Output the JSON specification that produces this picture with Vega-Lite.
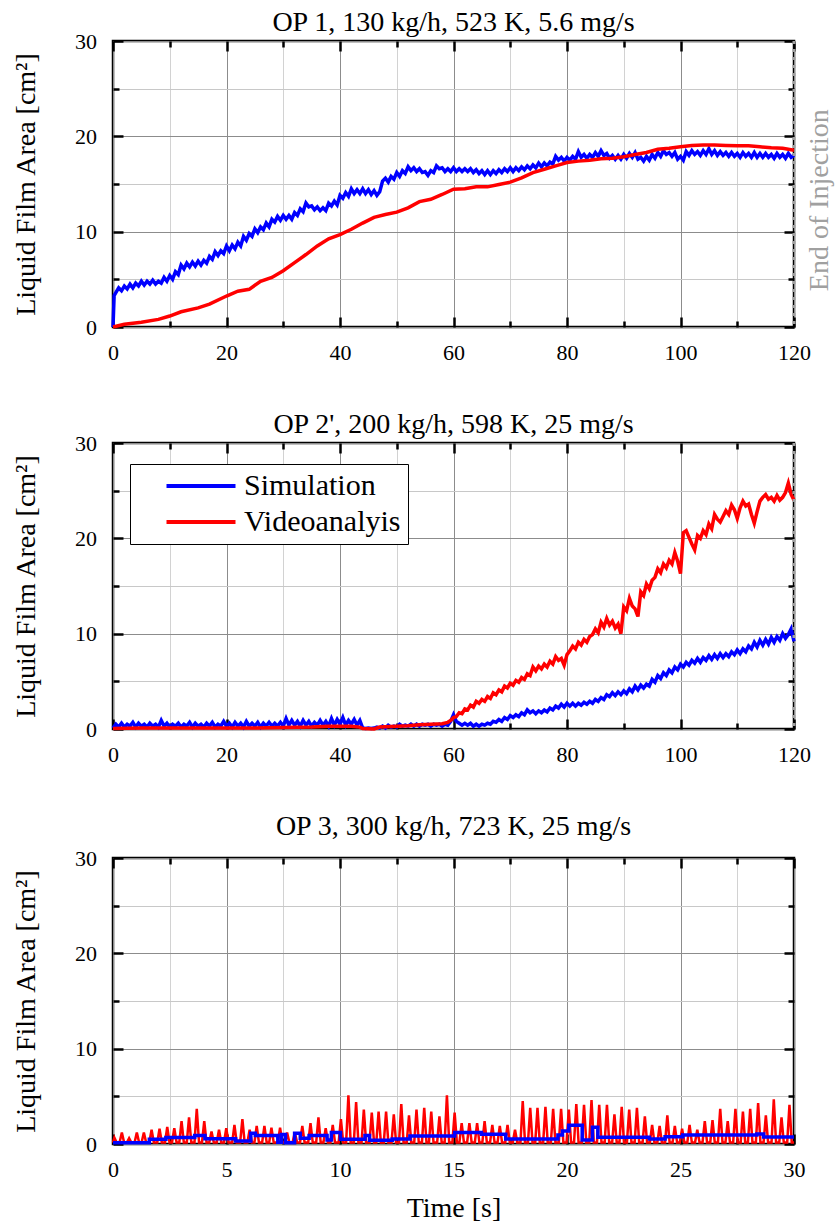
{
"$schema": "https://vega.github.io/schema/vega-lite/v6.json",
"padding": {"top": 7, "left": 11, "right": 5, "bottom": 5},
"spacing": 44,
"config": {
 "font": "Liberation Serif",
 "view": {"stroke": "black", "strokeWidth": 2.5},
 "axis": {"labelFont": "Liberation Serif", "labelFontSize": 22, "labelColor": "black", "titleFont": "Liberation Serif", "titleFontSize": 28, "titleFontWeight": "normal", "titleColor": "black", "domain": false, "tickColor": "black", "tickWidth": 2.5, "tickSize": -10, "labelFlush": false, "labelOverlap": false, "labelBound": false, "gridWidth": 1},
 "title": {"font": "Liberation Serif", "fontSize": 28, "fontWeight": "normal", "color": "black", "baseline": "alphabetic"},
 "legend": {"labelFont": "Liberation Serif", "labelFontSize": 30, "labelColor": "black", "labelLimit": 300}
},
"resolve": {"scale": {"color": "independent"}, "legend": {"color": "independent"}},
"datasets": {
 "p1s": [{"t":0,"v":0},{"t":0.2,"v":3.3},{"t":0.5,"v":3.6},{"t":1,"v":4.1},{"t":1.5,"v":3.8},{"t":2,"v":4.3},{"t":2.5,"v":4.0},{"t":3,"v":4.5},{"t":3.5,"v":4.1},{"t":4,"v":4.6},{"t":4.5,"v":4.3},{"t":5,"v":4.8},{"t":5.5,"v":4.4},{"t":6,"v":4.8},{"t":6.5,"v":4.5},{"t":7,"v":4.9},{"t":7.5,"v":4.5},{"t":8,"v":4.8},{"t":8.5,"v":4.6},{"t":9,"v":5.2},{"t":9.5,"v":4.8},{"t":10,"v":5.4},{"t":10.5,"v":5.0},{"t":11,"v":5.8},{"t":11.5,"v":5.5},{"t":12,"v":6.5},{"t":12.5,"v":6.1},{"t":13,"v":6.7},{"t":13.5,"v":6.3},{"t":14,"v":6.8},{"t":14.5,"v":6.4},{"t":15,"v":6.9},{"t":15.5,"v":6.5},{"t":16,"v":7.0},{"t":16.5,"v":6.7},{"t":17,"v":7.4},{"t":17.5,"v":7.1},{"t":18,"v":7.9},{"t":18.5,"v":7.5},{"t":19,"v":8.0},{"t":19.5,"v":7.7},{"t":20,"v":8.5},{"t":20.5,"v":8.0},{"t":21,"v":8.6},{"t":21.5,"v":8.2},{"t":22,"v":8.9},{"t":22.5,"v":8.5},{"t":23,"v":9.5},{"t":23.5,"v":9.1},{"t":24,"v":9.8},{"t":24.5,"v":9.5},{"t":25,"v":10.3},{"t":25.5,"v":9.9},{"t":26,"v":10.5},{"t":26.5,"v":10.2},{"t":27,"v":10.9},{"t":27.5,"v":10.5},{"t":28,"v":11.3},{"t":28.5,"v":11.0},{"t":29,"v":11.6},{"t":29.5,"v":11.2},{"t":30,"v":11.7},{"t":30.5,"v":11.3},{"t":31,"v":11.7},{"t":31.5,"v":11.3},{"t":32,"v":12.0},{"t":32.5,"v":11.7},{"t":33,"v":12.4},{"t":33.5,"v":12.1},{"t":34,"v":13.0},{"t":34.5,"v":12.6},{"t":35,"v":12.7},{"t":35.5,"v":12.3},{"t":36,"v":12.6},{"t":36.5,"v":12.2},{"t":37,"v":12.5},{"t":37.5,"v":12.2},{"t":38,"v":13.0},{"t":38.5,"v":12.7},{"t":39,"v":13.2},{"t":39.5,"v":12.8},{"t":40,"v":13.8},{"t":40.5,"v":13.5},{"t":41,"v":14.1},{"t":41.5,"v":13.7},{"t":42,"v":14.5},{"t":42.5,"v":14.0},{"t":43,"v":14.4},{"t":43.5,"v":14.0},{"t":44,"v":14.5},{"t":44.5,"v":14.0},{"t":45,"v":14.4},{"t":45.5,"v":13.9},{"t":46,"v":14.3},{"t":46.5,"v":13.8},{"t":47,"v":14.2},{"t":47.5,"v":15.3},{"t":48,"v":15.6},{"t":48.5,"v":15.2},{"t":49,"v":15.8},{"t":49.5,"v":15.5},{"t":50,"v":16.2},{"t":50.5,"v":15.8},{"t":51,"v":16.4},{"t":51.5,"v":16.1},{"t":52,"v":16.8},{"t":52.5,"v":16.4},{"t":53,"v":16.7},{"t":53.5,"v":16.3},{"t":54,"v":16.6},{"t":54.5,"v":16.2},{"t":55,"v":16.3},{"t":55.5,"v":15.9},{"t":56,"v":16.4},{"t":56.5,"v":16.2},{"t":57,"v":16.9},{"t":57.5,"v":16.6},{"t":58,"v":16.7},{"t":58.5,"v":16.3},{"t":59,"v":16.6},{"t":59.5,"v":16.3},{"t":60,"v":16.7},{"t":60.5,"v":16.3},{"t":61,"v":16.6},{"t":61.5,"v":16.3},{"t":62,"v":16.6},{"t":62.5,"v":16.3},{"t":63,"v":16.6},{"t":63.5,"v":16.2},{"t":64,"v":16.5},{"t":64.5,"v":16.1},{"t":65,"v":16.4},{"t":65.5,"v":16.0},{"t":66,"v":16.4},{"t":66.5,"v":16.0},{"t":67,"v":16.4},{"t":67.5,"v":16.1},{"t":68,"v":16.5},{"t":68.5,"v":16.2},{"t":69,"v":16.6},{"t":69.5,"v":16.3},{"t":70,"v":16.7},{"t":70.5,"v":16.3},{"t":71,"v":16.7},{"t":71.5,"v":16.4},{"t":72,"v":16.8},{"t":72.5,"v":16.5},{"t":73,"v":16.9},{"t":73.5,"v":16.6},{"t":74,"v":17.0},{"t":74.5,"v":16.7},{"t":75,"v":17.2},{"t":75.5,"v":16.8},{"t":76,"v":17.2},{"t":76.5,"v":16.9},{"t":77,"v":17.3},{"t":77.5,"v":17.1},{"t":78,"v":17.9},{"t":78.5,"v":17.5},{"t":79,"v":17.8},{"t":79.5,"v":17.4},{"t":80,"v":17.8},{"t":80.5,"v":17.5},{"t":81,"v":17.9},{"t":81.5,"v":17.6},{"t":82,"v":18.4},{"t":82.5,"v":17.8},{"t":83,"v":18.1},{"t":83.5,"v":17.7},{"t":84,"v":18.1},{"t":84.5,"v":17.8},{"t":85,"v":18.3},{"t":85.5,"v":17.9},{"t":86,"v":18.5},{"t":86.5,"v":18.0},{"t":87,"v":18.2},{"t":87.5,"v":17.7},{"t":88,"v":18.0},{"t":88.5,"v":17.6},{"t":89,"v":18.0},{"t":89.5,"v":17.6},{"t":90,"v":18.1},{"t":90.5,"v":17.7},{"t":91,"v":18.2},{"t":91.5,"v":17.8},{"t":92,"v":18.3},{"t":92.5,"v":17.6},{"t":93,"v":17.8},{"t":93.5,"v":17.4},{"t":94,"v":17.9},{"t":94.5,"v":17.5},{"t":95,"v":18.1},{"t":95.5,"v":17.7},{"t":96,"v":18.3},{"t":96.5,"v":17.9},{"t":97,"v":18.5},{"t":97.5,"v":18.1},{"t":98,"v":18.3},{"t":98.5,"v":17.9},{"t":99,"v":18.3},{"t":99.5,"v":17.6},{"t":100,"v":17.9},{"t":100.5,"v":17.5},{"t":101,"v":18.4},{"t":101.5,"v":18.0},{"t":102,"v":18.5},{"t":102.5,"v":18.1},{"t":103,"v":18.4},{"t":103.5,"v":18.0},{"t":104,"v":18.5},{"t":104.5,"v":18.1},{"t":105,"v":18.7},{"t":105.5,"v":18.1},{"t":106,"v":18.5},{"t":106.5,"v":18.0},{"t":107,"v":18.4},{"t":107.5,"v":18.0},{"t":108,"v":18.3},{"t":108.5,"v":17.9},{"t":109,"v":18.3},{"t":109.5,"v":17.9},{"t":110,"v":18.2},{"t":110.5,"v":17.8},{"t":111,"v":18.3},{"t":111.5,"v":17.9},{"t":112,"v":18.2},{"t":112.5,"v":17.8},{"t":113,"v":18.3},{"t":113.5,"v":17.8},{"t":114,"v":18.2},{"t":114.5,"v":17.8},{"t":115,"v":18.2},{"t":115.5,"v":17.8},{"t":116,"v":18.1},{"t":116.5,"v":17.7},{"t":117,"v":18.2},{"t":117.5,"v":17.8},{"t":118,"v":18.1},{"t":118.5,"v":17.7},{"t":119,"v":18.2},{"t":119.5,"v":17.8},{"t":120,"v":18.0}],
 "p1v": [{"t":0,"v":0},{"t":2,"v":0.28},{"t":5,"v":0.5},{"t":8,"v":0.8},{"t":10,"v":1.15},{"t":12,"v":1.6},{"t":15,"v":2.0},{"t":17,"v":2.4},{"t":20,"v":3.25},{"t":22,"v":3.75},{"t":24,"v":3.95},{"t":26,"v":4.8},{"t":28,"v":5.2},{"t":30,"v":5.9},{"t":32,"v":6.75},{"t":34,"v":7.6},{"t":36,"v":8.5},{"t":38,"v":9.25},{"t":40,"v":9.7},{"t":42,"v":10.25},{"t":44,"v":10.9},{"t":46,"v":11.5},{"t":48,"v":11.8},{"t":50,"v":12.05},{"t":52,"v":12.5},{"t":54,"v":13.15},{"t":56,"v":13.4},{"t":58,"v":13.9},{"t":60,"v":14.45},{"t":62,"v":14.5},{"t":64,"v":14.7},{"t":66,"v":14.7},{"t":68,"v":14.95},{"t":70,"v":15.2},{"t":72,"v":15.65},{"t":74,"v":16.2},{"t":76,"v":16.55},{"t":78,"v":16.9},{"t":80,"v":17.25},{"t":82,"v":17.4},{"t":84,"v":17.5},{"t":86,"v":17.65},{"t":88,"v":17.7},{"t":90,"v":17.85},{"t":92,"v":18.1},{"t":94,"v":18.3},{"t":96,"v":18.65},{"t":98,"v":18.75},{"t":100,"v":18.9},{"t":102,"v":19.05},{"t":104,"v":19.1},{"t":106,"v":19.1},{"t":108,"v":19.05},{"t":110,"v":19.0},{"t":112,"v":19.0},{"t":114,"v":18.9},{"t":116,"v":18.8},{"t":118,"v":18.75},{"t":120,"v":18.55}],
 "p2s": [{"t":0,"v":0.1},{"t":0.5,"v":0.5},{"t":1,"v":0.2},{"t":1.5,"v":0.6},{"t":2,"v":0.2},{"t":2.5,"v":0.5},{"t":3,"v":0.3},{"t":3.5,"v":0.7},{"t":4,"v":0.2},{"t":4.5,"v":0.6},{"t":5,"v":0.3},{"t":5.5,"v":0.5},{"t":6,"v":0.2},{"t":6.5,"v":0.6},{"t":7,"v":0.3},{"t":7.5,"v":0.5},{"t":8,"v":0.2},{"t":8.5,"v":0.9},{"t":9,"v":0.3},{"t":9.5,"v":0.6},{"t":10,"v":0.2},{"t":10.5,"v":0.5},{"t":11,"v":0.3},{"t":11.5,"v":0.6},{"t":12,"v":0.2},{"t":12.5,"v":0.5},{"t":13,"v":0.3},{"t":13.5,"v":0.7},{"t":14,"v":0.2},{"t":14.5,"v":0.6},{"t":15,"v":0.3},{"t":15.5,"v":0.5},{"t":16,"v":0.2},{"t":16.5,"v":0.6},{"t":17,"v":0.3},{"t":17.5,"v":0.7},{"t":18,"v":0.2},{"t":18.5,"v":0.5},{"t":19,"v":0.3},{"t":19.5,"v":0.8},{"t":20,"v":0.3},{"t":20.5,"v":0.6},{"t":21,"v":0.2},{"t":21.5,"v":0.7},{"t":22,"v":0.3},{"t":22.5,"v":0.6},{"t":23,"v":0.2},{"t":23.5,"v":0.8},{"t":24,"v":0.3},{"t":24.5,"v":0.6},{"t":25,"v":0.3},{"t":25.5,"v":0.7},{"t":26,"v":0.2},{"t":26.5,"v":0.6},{"t":27,"v":0.3},{"t":27.5,"v":0.7},{"t":28,"v":0.3},{"t":28.5,"v":0.6},{"t":29,"v":0.3},{"t":29.5,"v":0.7},{"t":30,"v":0.3},{"t":30.5,"v":1.1},{"t":31,"v":0.4},{"t":31.5,"v":0.9},{"t":32,"v":0.4},{"t":32.5,"v":0.8},{"t":33,"v":0.3},{"t":33.5,"v":0.9},{"t":34,"v":0.4},{"t":34.5,"v":0.8},{"t":35,"v":0.3},{"t":35.5,"v":0.7},{"t":36,"v":0.4},{"t":36.5,"v":0.9},{"t":37,"v":0.4},{"t":37.5,"v":0.8},{"t":38,"v":0.3},{"t":38.5,"v":1.1},{"t":39,"v":0.4},{"t":39.5,"v":1.0},{"t":40,"v":0.5},{"t":40.5,"v":1.2},{"t":41,"v":0.4},{"t":41.5,"v":0.9},{"t":42,"v":0.5},{"t":42.5,"v":1.0},{"t":43,"v":0.4},{"t":43.5,"v":0.9},{"t":44,"v":0.1},{"t":44.5,"v":0.05},{"t":45,"v":0.1},{"t":45.5,"v":0.05},{"t":46,"v":0.1},{"t":46.5,"v":0.2},{"t":47,"v":0.1},{"t":47.5,"v":0.3},{"t":48,"v":0.1},{"t":48.5,"v":0.4},{"t":49,"v":0.2},{"t":49.5,"v":0.3},{"t":50,"v":0.2},{"t":50.5,"v":0.5},{"t":51,"v":0.3},{"t":51.5,"v":0.4},{"t":52,"v":0.3},{"t":52.5,"v":0.5},{"t":53,"v":0.3},{"t":53.5,"v":0.5},{"t":54,"v":0.3},{"t":54.5,"v":0.5},{"t":55,"v":0.4},{"t":55.5,"v":0.5},{"t":56,"v":0.3},{"t":56.5,"v":0.5},{"t":57,"v":0.4},{"t":57.5,"v":0.5},{"t":58,"v":0.3},{"t":58.5,"v":0.5},{"t":59,"v":0.4},{"t":59.5,"v":0.8},{"t":60,"v":1.5},{"t":60.5,"v":0.8},{"t":61,"v":0.6},{"t":61.5,"v":0.4},{"t":62,"v":0.6},{"t":62.5,"v":0.4},{"t":63,"v":0.6},{"t":63.5,"v":0.3},{"t":64,"v":0.5},{"t":64.5,"v":0.3},{"t":65,"v":0.5},{"t":65.5,"v":0.4},{"t":66,"v":0.6},{"t":66.5,"v":0.5},{"t":67,"v":0.8},{"t":67.5,"v":0.7},{"t":68,"v":1.0},{"t":68.5,"v":0.8},{"t":69,"v":1.2},{"t":69.5,"v":1.0},{"t":70,"v":1.4},{"t":70.5,"v":1.2},{"t":71,"v":1.5},{"t":71.5,"v":1.3},{"t":72,"v":1.7},{"t":72.5,"v":1.5},{"t":73,"v":2.0},{"t":73.5,"v":1.7},{"t":74,"v":1.9},{"t":74.5,"v":1.6},{"t":75,"v":1.9},{"t":75.5,"v":1.7},{"t":76,"v":2.0},{"t":76.5,"v":1.8},{"t":77,"v":2.2},{"t":77.5,"v":2.0},{"t":78,"v":2.4},{"t":78.5,"v":2.2},{"t":79,"v":2.6},{"t":79.5,"v":2.3},{"t":80,"v":2.7},{"t":80.5,"v":2.4},{"t":81,"v":2.7},{"t":81.5,"v":2.4},{"t":82,"v":2.7},{"t":82.5,"v":2.5},{"t":83,"v":2.8},{"t":83.5,"v":2.6},{"t":84,"v":2.9},{"t":84.5,"v":2.7},{"t":85,"v":3.1},{"t":85.5,"v":2.9},{"t":86,"v":3.3},{"t":86.5,"v":3.1},{"t":87,"v":3.6},{"t":87.5,"v":3.4},{"t":88,"v":3.8},{"t":88.5,"v":3.5},{"t":89,"v":3.9},{"t":89.5,"v":3.6},{"t":90,"v":4.0},{"t":90.5,"v":3.7},{"t":91,"v":4.2},{"t":91.5,"v":3.9},{"t":92,"v":4.5},{"t":92.5,"v":4.1},{"t":93,"v":4.6},{"t":93.5,"v":4.3},{"t":94,"v":4.7},{"t":94.5,"v":4.5},{"t":95,"v":5.2},{"t":95.5,"v":4.9},{"t":96,"v":5.6},{"t":96.5,"v":5.3},{"t":97,"v":5.9},{"t":97.5,"v":5.6},{"t":98,"v":6.2},{"t":98.5,"v":5.9},{"t":99,"v":6.5},{"t":99.5,"v":6.2},{"t":100,"v":6.8},{"t":100.5,"v":6.5},{"t":101,"v":7.0},{"t":101.5,"v":6.7},{"t":102,"v":7.2},{"t":102.5,"v":6.9},{"t":103,"v":7.4},{"t":103.5,"v":7.0},{"t":104,"v":7.5},{"t":104.5,"v":7.2},{"t":105,"v":7.7},{"t":105.5,"v":7.3},{"t":106,"v":7.8},{"t":106.5,"v":7.4},{"t":107,"v":7.9},{"t":107.5,"v":7.5},{"t":108,"v":7.9},{"t":108.5,"v":7.6},{"t":109,"v":8.1},{"t":109.5,"v":7.8},{"t":110,"v":8.3},{"t":110.5,"v":7.9},{"t":111,"v":8.4},{"t":111.5,"v":8.1},{"t":112,"v":8.7},{"t":112.5,"v":8.4},{"t":113,"v":9.1},{"t":113.5,"v":8.6},{"t":114,"v":9.3},{"t":114.5,"v":8.8},{"t":115,"v":9.4},{"t":115.5,"v":8.9},{"t":116,"v":9.6},{"t":116.5,"v":9.1},{"t":117,"v":9.7},{"t":117.5,"v":9.3},{"t":118,"v":10.0},{"t":118.5,"v":9.5},{"t":119,"v":9.9},{"t":119.5,"v":10.5},{"t":120,"v":9.2}],
 "p2v": [{"t":0,"v":0.05},{"t":5,"v":0.1},{"t":10,"v":0.1},{"t":15,"v":0.1},{"t":20,"v":0.1},{"t":25,"v":0.1},{"t":30,"v":0.15},{"t":35,"v":0.2},{"t":38,"v":0.3},{"t":40,"v":0.3},{"t":42,"v":0.3},{"t":43.5,"v":0.2},{"t":44,"v":0.05},{"t":46,"v":0.0},{"t":47,"v":0.2},{"t":50,"v":0.3},{"t":52,"v":0.35},{"t":54,"v":0.45},{"t":56,"v":0.5},{"t":58,"v":0.55},{"t":59,"v":0.7},{"t":59.5,"v":0.9},{"t":60,"v":1.2},{"t":60.5,"v":1.3},{"t":61,"v":1.7},{"t":61.5,"v":1.6},{"t":62,"v":2.1},{"t":62.5,"v":2.0},{"t":63,"v":2.5},{"t":63.5,"v":2.3},{"t":64,"v":2.9},{"t":64.5,"v":2.7},{"t":65,"v":3.1},{"t":65.5,"v":2.9},{"t":66,"v":3.4},{"t":66.5,"v":3.2},{"t":67,"v":3.8},{"t":67.5,"v":3.6},{"t":68,"v":4.1},{"t":68.5,"v":3.9},{"t":69,"v":4.5},{"t":69.5,"v":4.3},{"t":70,"v":4.8},{"t":70.5,"v":4.6},{"t":71,"v":5.1},{"t":71.5,"v":4.9},{"t":72,"v":5.4},{"t":72.5,"v":5.2},{"t":73,"v":5.8},{"t":73.5,"v":5.6},{"t":74,"v":6.5},{"t":74.5,"v":6.1},{"t":75,"v":6.6},{"t":75.5,"v":6.3},{"t":76,"v":6.8},{"t":76.5,"v":6.5},{"t":77,"v":7.1},{"t":77.5,"v":6.8},{"t":78,"v":7.6},{"t":78.5,"v":7.2},{"t":79,"v":7.4},{"t":79.5,"v":6.7},{"t":80,"v":7.8},{"t":80.5,"v":8.2},{"t":81,"v":8.7},{"t":81.5,"v":8.4},{"t":82,"v":9.1},{"t":82.5,"v":8.8},{"t":83,"v":9.4},{"t":83.5,"v":9.1},{"t":84,"v":9.7},{"t":84.5,"v":9.9},{"t":85,"v":10.5},{"t":85.5,"v":10.1},{"t":86,"v":11.2},{"t":86.5,"v":10.7},{"t":87,"v":11.6},{"t":87.5,"v":10.9},{"t":88,"v":11.3},{"t":88.5,"v":10.6},{"t":89,"v":11.0},{"t":89.5,"v":10.0},{"t":90,"v":12.8},{"t":90.5,"v":12.4},{"t":91,"v":13.7},{"t":91.5,"v":12.9},{"t":92,"v":12.6},{"t":92.5,"v":11.8},{"t":93,"v":14.4},{"t":93.5,"v":14.0},{"t":94,"v":15.2},{"t":94.5,"v":14.7},{"t":95,"v":15.6},{"t":95.5,"v":15.9},{"t":96,"v":16.8},{"t":96.5,"v":16.4},{"t":97,"v":17.3},{"t":97.5,"v":16.9},{"t":98,"v":17.7},{"t":98.5,"v":17.3},{"t":99,"v":18.5},{"t":99.5,"v":17.6},{"t":100,"v":16.3},{"t":100.5,"v":20.6},{"t":101,"v":20.8},{"t":101.5,"v":20.1},{"t":102,"v":19.4},{"t":102.5,"v":18.8},{"t":103,"v":20.3},{"t":103.5,"v":20.0},{"t":104,"v":20.8},{"t":104.5,"v":20.4},{"t":105,"v":21.5},{"t":105.5,"v":21.0},{"t":106,"v":22.5},{"t":106.5,"v":22.0},{"t":107,"v":21.7},{"t":107.5,"v":22.3},{"t":108,"v":22.9},{"t":108.5,"v":22.5},{"t":109,"v":23.5},{"t":109.5,"v":23.0},{"t":110,"v":22.1},{"t":110.5,"v":23.2},{"t":111,"v":23.9},{"t":111.5,"v":23.4},{"t":112,"v":23.6},{"t":112.5,"v":22.5},{"t":113,"v":21.6},{"t":113.5,"v":22.8},{"t":114,"v":23.9},{"t":114.5,"v":24.3},{"t":115,"v":24.6},{"t":115.5,"v":24.1},{"t":116,"v":24.3},{"t":116.5,"v":23.9},{"t":117,"v":24.5},{"t":117.5,"v":24.0},{"t":118,"v":24.3},{"t":118.5,"v":24.8},{"t":119,"v":25.8},{"t":119.5,"v":24.6},{"t":120,"v":24.0}],
 "p3v": [{"t":0,"v":0.15},{"t":0.06,"v":0.67},{"t":0.16,"v":0.15},{"t":0.29,"v":0.15},{"t":0.39,"v":1.2},{"t":0.49,"v":0.15},{"t":0.61,"v":0.15},{"t":0.71,"v":0.6},{"t":0.81,"v":0.15},{"t":0.95,"v":0.15},{"t":1.05,"v":1.2},{"t":1.15,"v":0.15},{"t":1.26,"v":0.15},{"t":1.36,"v":1.2},{"t":1.46,"v":0.15},{"t":1.6,"v":0.15},{"t":1.7,"v":1.5},{"t":1.8,"v":0.15},{"t":1.95,"v":0.15},{"t":2.05,"v":1.6},{"t":2.15,"v":0.15},{"t":2.29,"v":0.15},{"t":2.39,"v":1.8},{"t":2.49,"v":0.15},{"t":2.6,"v":0.15},{"t":2.7,"v":1.65},{"t":2.8,"v":0.15},{"t":2.92,"v":0.15},{"t":3.02,"v":2.4},{"t":3.12,"v":0.15},{"t":3.25,"v":0.15},{"t":3.35,"v":2.8},{"t":3.45,"v":0.15},{"t":3.59,"v":0.15},{"t":3.69,"v":3.7},{"t":3.79,"v":0.15},{"t":3.92,"v":0.15},{"t":4.02,"v":2.4},{"t":4.12,"v":0.15},{"t":4.24,"v":0.15},{"t":4.34,"v":1.3},{"t":4.44,"v":0.15},{"t":4.57,"v":0.15},{"t":4.67,"v":1.5},{"t":4.77,"v":0.15},{"t":4.89,"v":0.15},{"t":4.99,"v":1.65},{"t":5.09,"v":0.15},{"t":5.25,"v":0.15},{"t":5.35,"v":2.0},{"t":5.45,"v":0.15},{"t":5.6,"v":0.15},{"t":5.7,"v":2.6},{"t":5.8,"v":0.15},{"t":5.92,"v":0.15},{"t":6.02,"v":1.5},{"t":6.12,"v":0.15},{"t":6.23,"v":0.15},{"t":6.33,"v":1.9},{"t":6.43,"v":0.15},{"t":6.57,"v":0.15},{"t":6.67,"v":1.9},{"t":6.77,"v":0.15},{"t":6.88,"v":0.15},{"t":6.98,"v":1.7},{"t":7.08,"v":0.15},{"t":7.26,"v":0.15},{"t":7.36,"v":1.7},{"t":7.46,"v":0.15},{"t":7.57,"v":0.15},{"t":7.67,"v":1.2},{"t":7.77,"v":0.15},{"t":7.91,"v":0.15},{"t":8.01,"v":1.2},{"t":8.11,"v":0.15},{"t":8.24,"v":0.15},{"t":8.34,"v":1.9},{"t":8.44,"v":0.15},{"t":8.6,"v":0.15},{"t":8.7,"v":2.2},{"t":8.8,"v":0.15},{"t":8.95,"v":0.15},{"t":9.05,"v":2.8},{"t":9.15,"v":0.15},{"t":9.27,"v":0.15},{"t":9.37,"v":1.65},{"t":9.47,"v":0.15},{"t":9.58,"v":0.15},{"t":9.68,"v":2.0},{"t":9.78,"v":0.15},{"t":9.94,"v":0.15},{"t":10.04,"v":2.6},{"t":10.14,"v":0.15},{"t":10.27,"v":0.15},{"t":10.37,"v":5.1},{"t":10.47,"v":0.15},{"t":10.61,"v":0.15},{"t":10.71,"v":4.4},{"t":10.81,"v":0.15},{"t":10.95,"v":0.15},{"t":11.05,"v":3.6},{"t":11.15,"v":0.15},{"t":11.3,"v":0.15},{"t":11.4,"v":3.3},{"t":11.5,"v":0.15},{"t":11.6,"v":0.15},{"t":11.7,"v":3.4},{"t":11.8,"v":0.15},{"t":11.93,"v":0.15},{"t":12.03,"v":3.4},{"t":12.13,"v":0.15},{"t":12.27,"v":0.15},{"t":12.37,"v":3.1},{"t":12.47,"v":0.15},{"t":12.6,"v":0.15},{"t":12.7,"v":4.2},{"t":12.8,"v":0.15},{"t":12.94,"v":0.15},{"t":13.04,"v":3.0},{"t":13.14,"v":0.15},{"t":13.27,"v":0.15},{"t":13.37,"v":3.6},{"t":13.47,"v":0.15},{"t":13.61,"v":0.15},{"t":13.71,"v":3.8},{"t":13.81,"v":0.15},{"t":13.92,"v":0.15},{"t":14.02,"v":3.4},{"t":14.12,"v":0.15},{"t":14.28,"v":0.15},{"t":14.38,"v":2.9},{"t":14.48,"v":0.15},{"t":14.61,"v":0.15},{"t":14.71,"v":5.1},{"t":14.81,"v":0.15},{"t":14.95,"v":0.15},{"t":15.05,"v":3.3},{"t":15.15,"v":0.15},{"t":15.26,"v":0.15},{"t":15.36,"v":2.2},{"t":15.46,"v":0.15},{"t":15.6,"v":0.15},{"t":15.7,"v":2.2},{"t":15.8,"v":0.15},{"t":15.94,"v":0.15},{"t":16.04,"v":2.2},{"t":16.14,"v":0.15},{"t":16.27,"v":0.15},{"t":16.37,"v":2.4},{"t":16.47,"v":0.15},{"t":16.61,"v":0.15},{"t":16.71,"v":2.0},{"t":16.81,"v":0.15},{"t":16.94,"v":0.15},{"t":17.04,"v":1.9},{"t":17.14,"v":0.15},{"t":17.28,"v":0.15},{"t":17.38,"v":2.0},{"t":17.48,"v":0.15},{"t":17.61,"v":0.15},{"t":17.71,"v":1.5},{"t":17.81,"v":0.15},{"t":17.95,"v":0.15},{"t":18.05,"v":4.5},{"t":18.15,"v":0.15},{"t":18.28,"v":0.15},{"t":18.38,"v":3.8},{"t":18.48,"v":0.15},{"t":18.6,"v":0.15},{"t":18.7,"v":3.8},{"t":18.8,"v":0.15},{"t":18.95,"v":0.15},{"t":19.05,"v":3.9},{"t":19.15,"v":0.15},{"t":19.29,"v":0.15},{"t":19.39,"v":3.7},{"t":19.49,"v":0.15},{"t":19.64,"v":0.15},{"t":19.74,"v":3.7},{"t":19.84,"v":0.15},{"t":19.98,"v":0.15},{"t":20.08,"v":3.6},{"t":20.18,"v":0.15},{"t":20.31,"v":0.15},{"t":20.41,"v":4.2},{"t":20.51,"v":0.15},{"t":20.65,"v":0.15},{"t":20.75,"v":4.1},{"t":20.85,"v":0.15},{"t":20.98,"v":0.15},{"t":21.08,"v":4.6},{"t":21.18,"v":0.15},{"t":21.32,"v":0.15},{"t":21.42,"v":4.1},{"t":21.52,"v":0.15},{"t":21.66,"v":0.15},{"t":21.76,"v":4.1},{"t":21.86,"v":0.15},{"t":21.99,"v":0.15},{"t":22.09,"v":3.1},{"t":22.19,"v":0.15},{"t":22.31,"v":0.15},{"t":22.41,"v":3.9},{"t":22.51,"v":0.15},{"t":22.64,"v":0.15},{"t":22.74,"v":3.6},{"t":22.84,"v":0.15},{"t":22.98,"v":0.15},{"t":23.08,"v":3.8},{"t":23.18,"v":0.15},{"t":23.33,"v":0.15},{"t":23.43,"v":2.9},{"t":23.53,"v":0.15},{"t":23.65,"v":0.15},{"t":23.75,"v":2.0},{"t":23.85,"v":0.15},{"t":23.98,"v":0.15},{"t":24.08,"v":1.9},{"t":24.18,"v":0.15},{"t":24.32,"v":0.15},{"t":24.42,"v":3.0},{"t":24.52,"v":0.15},{"t":24.65,"v":0.15},{"t":24.75,"v":1.9},{"t":24.85,"v":0.15},{"t":24.97,"v":0.15},{"t":25.07,"v":1.6},{"t":25.17,"v":0.15},{"t":25.3,"v":0.15},{"t":25.4,"v":2.0},{"t":25.5,"v":0.15},{"t":25.64,"v":0.15},{"t":25.74,"v":1.5},{"t":25.84,"v":0.15},{"t":25.97,"v":0.15},{"t":26.07,"v":2.4},{"t":26.17,"v":0.15},{"t":26.31,"v":0.15},{"t":26.41,"v":2.5},{"t":26.51,"v":0.15},{"t":26.65,"v":0.15},{"t":26.75,"v":3.7},{"t":26.85,"v":0.15},{"t":26.98,"v":0.15},{"t":27.08,"v":2.4},{"t":27.18,"v":0.15},{"t":27.32,"v":0.15},{"t":27.42,"v":3.7},{"t":27.52,"v":0.15},{"t":27.65,"v":0.15},{"t":27.75,"v":3.4},{"t":27.85,"v":0.15},{"t":27.97,"v":0.15},{"t":28.07,"v":3.7},{"t":28.17,"v":0.15},{"t":28.32,"v":0.15},{"t":28.42,"v":4.3},{"t":28.52,"v":0.15},{"t":28.66,"v":0.15},{"t":28.76,"v":3.0},{"t":28.86,"v":0.15},{"t":29.01,"v":0.15},{"t":29.11,"v":4.7},{"t":29.21,"v":0.15},{"t":29.35,"v":0.15},{"t":29.45,"v":2.8},{"t":29.55,"v":0.15},{"t":29.7,"v":0.15},{"t":29.8,"v":4.1},{"t":29.9,"v":0.15},{"t":30,"v":0.15}],
 "p3s": [{"t":0,"v":0.14},{"t":1.6,"v":0.5},{"t":2.33,"v":0.67},{"t":3.6,"v":0.88},{"t":4.05,"v":0.56},{"t":5.4,"v":0.32},{"t":6.07,"v":1.13},{"t":6.27,"v":0.88},{"t":7.26,"v":0.18},{"t":7.42,"v":1.0},{"t":7.6,"v":0.14},{"t":8.0,"v":1.13},{"t":8.25,"v":0.6},{"t":8.64,"v":0.88},{"t":9.43,"v":0.42},{"t":9.62,"v":1.2},{"t":10.02,"v":0.5},{"t":11.1,"v":0.88},{"t":11.3,"v":0.39},{"t":12.3,"v":0.53},{"t":13.08,"v":0.85},{"t":15.05,"v":1.2},{"t":16.23,"v":1.02},{"t":17.3,"v":0.53},{"t":19.6,"v":0.95},{"t":19.8,"v":1.37},{"t":20.08,"v":1.97},{"t":20.67,"v":0.42},{"t":21.12,"v":1.76},{"t":21.36,"v":0.7},{"t":23.63,"v":0.53},{"t":24.32,"v":0.77},{"t":25.1,"v":0.95},{"t":28.36,"v":1.06},{"t":28.66,"v":0.74},{"t":30,"v":0.74}]
},
"vconcat": [
 {
  "width": 681, "height": 286,
  "title": {"text": "OP 1, 130 kg/h, 523 K, 5.6 mg/s", "offset": -7},
  "resolve": {"axis": {"x": "independent", "y": "independent"}},
  "layer": [
   {"data": {"name": "p1s"}, "mark": {"type": "line", "color": "#0000ff", "strokeWidth": 3.5},
    "encoding": {
     "x": {"field": "t", "type": "quantitative", "scale": {"domain": [0, 120], "nice": false},
      "axis": {"orient": "bottom", "title": null, "values": [0,10,20,30,40,50,60,70,80,90,100,110,120], "labelExpr": "datum.value % 20 === 0 ? datum.label : ''", "labelPadding": 25.5, "tickDash": {"condition": {"test": "datum.value % 20 !== 0", "value": [6, 40]}, "value": [20, 0]}, "grid": true, "gridColor": {"condition": {"test": "datum.value % 20 === 0", "value": "#8c8c8c"}, "value": "#d2d2d2"}}},
     "y": {"field": "v", "type": "quantitative", "scale": {"domain": [0, 30], "nice": false},
      "axis": {"orient": "left", "title": "Liquid Film Area [cm²]", "titlePadding": 33.7, "values": [0,5,10,15,20,25,30], "labelExpr": "datum.value % 10 === 0 ? datum.label : ''", "labelPadding": 26.5, "tickDash": {"condition": {"test": "datum.value % 10 !== 0", "value": [6, 40]}, "value": [20, 0]}, "grid": true, "gridColor": {"condition": {"test": "datum.value % 10 === 0", "value": "#8c8c8c"}, "value": "#c8c8c8"}}}
    }},
   {"data": {"name": "p1v"}, "mark": {"type": "line", "color": "#ff0000", "strokeWidth": 3.5},
    "encoding": {
     "x": {"field": "t", "type": "quantitative", "axis": {"orient": "top", "title": null, "labels": false, "grid": false, "values": [0,10,20,30,40,50,60,70,80,90,100,110,120], "tickDash": {"condition": {"test": "datum.value % 20 !== 0", "value": [6, 40]}, "value": [20, 0]}}},
     "y": {"field": "v", "type": "quantitative", "axis": {"orient": "right", "title": null, "labels": false, "grid": false, "values": [0,5,10,15,20,25,30], "tickDash": {"condition": {"test": "datum.value % 10 !== 0", "value": [6, 40]}, "value": [20, 0]}}}
    }},
   {"data": {"values": [{}]}, "mark": {"type": "rule", "color": "#a0a0a0", "strokeWidth": 3, "strokeDash": [3, 5]},
    "encoding": {"x": {"datum": 120, "type": "quantitative", "axis": null}}},
   {"data": {"values": [{}]}, "mark": {"type": "text", "text": "End of Injection", "angle": 270, "fontSize": 28, "font": "Liberation Serif", "color": "#a0a0a0", "align": "center", "baseline": "middle", "dy": 26},
    "encoding": {"x": {"datum": 120, "type": "quantitative", "axis": null}, "y": {"datum": 13.3, "type": "quantitative", "axis": null}}}
  ]
 },
 {
  "width": 681, "height": 286,
  "title": {"text": "OP 2', 200 kg/h, 598 K, 25 mg/s", "offset": -7},
  "resolve": {"axis": {"x": "independent", "y": "independent"}},
  "layer": [
   {"data": {"name": "p2s"}, "mark": {"type": "line", "strokeWidth": 3.5},
    "encoding": {
     "x": {"field": "t", "type": "quantitative", "scale": {"domain": [0, 120], "nice": false},
      "axis": {"orient": "bottom", "title": null, "values": [0,10,20,30,40,50,60,70,80,90,100,110,120], "labelExpr": "datum.value % 20 === 0 ? datum.label : ''", "labelPadding": 25.5, "tickDash": {"condition": {"test": "datum.value % 20 !== 0", "value": [6, 40]}, "value": [20, 0]}, "grid": true, "gridColor": {"condition": {"test": "datum.value % 20 === 0", "value": "#8c8c8c"}, "value": "#d2d2d2"}}},
     "y": {"field": "v", "type": "quantitative", "scale": {"domain": [0, 30], "nice": false},
      "axis": {"orient": "left", "title": "Liquid Film Area [cm²]", "titlePadding": 33.7, "values": [0,5,10,15,20,25,30], "labelExpr": "datum.value % 10 === 0 ? datum.label : ''", "labelPadding": 26.5, "tickDash": {"condition": {"test": "datum.value % 10 !== 0", "value": [6, 40]}, "value": [20, 0]}, "grid": true, "gridColor": {"condition": {"test": "datum.value % 10 === 0", "value": "#8c8c8c"}, "value": "#c8c8c8"}}},
     "color": {"datum": "Simulation", "type": "nominal", "scale": {"domain": ["Simulation", "Videoanalyis"], "range": ["#0000ff", "#ff0000"]},
      "legend": {"orient": "none", "legendX": 17, "legendY": 21, "title": null, "padding": 7, "strokeColor": "black", "fillColor": "white", "symbolType": "M-3,0H3", "symbolSize": 529, "symbolStrokeWidth": 4, "symbolFillColor": "transparent", "symbolOffset": 49, "labelOffset": 28, "labelFontSize": 30, "labelFont": "Liberation Serif", "labelLimit": 300, "rowPadding": 6}}
    }},
   {"data": {"name": "p2v"}, "mark": {"type": "line", "strokeWidth": 3.5},
    "encoding": {
     "x": {"field": "t", "type": "quantitative", "axis": {"orient": "top", "title": null, "labels": false, "grid": false, "values": [0,10,20,30,40,50,60,70,80,90,100,110,120], "tickDash": {"condition": {"test": "datum.value % 20 !== 0", "value": [6, 40]}, "value": [20, 0]}}},
     "y": {"field": "v", "type": "quantitative", "axis": {"orient": "right", "title": null, "labels": false, "grid": false, "values": [0,5,10,15,20,25,30], "tickDash": {"condition": {"test": "datum.value % 10 !== 0", "value": [6, 40]}, "value": [20, 0]}}},
     "color": {"datum": "Videoanalyis", "type": "nominal"}
    }},
   {"data": {"values": [{}]}, "mark": {"type": "rule", "color": "#a0a0a0", "strokeWidth": 3, "strokeDash": [3, 5]},
    "encoding": {"x": {"datum": 120, "type": "quantitative", "axis": null}}}
  ]
 },
 {
  "width": 681, "height": 286,
  "title": {"text": "OP 3, 300 kg/h, 723 K, 25 mg/s", "offset": 6.5},
  "resolve": {"axis": {"x": "independent", "y": "independent"}},
  "layer": [
   {"data": {"name": "p3v"}, "mark": {"type": "line", "color": "#ff0000", "strokeWidth": 2.5},
    "encoding": {
     "x": {"field": "t", "type": "quantitative", "scale": {"domain": [0, 30], "nice": false},
      "axis": {"orient": "bottom", "title": "Time [s]", "titlePadding": 14, "values": [0,2.5,5,7.5,10,12.5,15,17.5,20,22.5,25,27.5,30], "labelExpr": "datum.value % 5 === 0 ? datum.label : ''", "labelPadding": 25.5, "tickDash": {"condition": {"test": "datum.value % 5 !== 0", "value": [6, 40]}, "value": [20, 0]}, "grid": true, "gridColor": {"condition": {"test": "datum.value % 5 === 0", "value": "#8c8c8c"}, "value": "#d2d2d2"}}},
     "y": {"field": "v", "type": "quantitative", "scale": {"domain": [0, 30], "nice": false},
      "axis": {"orient": "left", "title": "Liquid Film Area [cm²]", "titlePadding": 33.7, "values": [0,5,10,15,20,25,30], "labelExpr": "datum.value % 10 === 0 ? datum.label : ''", "labelPadding": 26.5, "tickDash": {"condition": {"test": "datum.value % 10 !== 0", "value": [6, 40]}, "value": [20, 0]}, "grid": true, "gridColor": {"condition": {"test": "datum.value % 10 === 0", "value": "#8c8c8c"}, "value": "#c8c8c8"}}}
    }},
   {"data": {"name": "p3s"}, "mark": {"type": "line", "color": "#0000ff", "strokeWidth": 3.5, "interpolate": "step-after"},
    "encoding": {
     "x": {"field": "t", "type": "quantitative", "axis": {"orient": "top", "title": null, "labels": false, "grid": false, "values": [0,2.5,5,7.5,10,12.5,15,17.5,20,22.5,25,27.5,30], "tickDash": {"condition": {"test": "datum.value % 5 !== 0", "value": [6, 40]}, "value": [20, 0]}}},
     "y": {"field": "v", "type": "quantitative", "axis": {"orient": "right", "title": null, "labels": false, "grid": false, "values": [0,5,10,15,20,25,30], "tickDash": {"condition": {"test": "datum.value % 10 !== 0", "value": [6, 40]}, "value": [20, 0]}}}
    }}
  ]
 }
]
}
